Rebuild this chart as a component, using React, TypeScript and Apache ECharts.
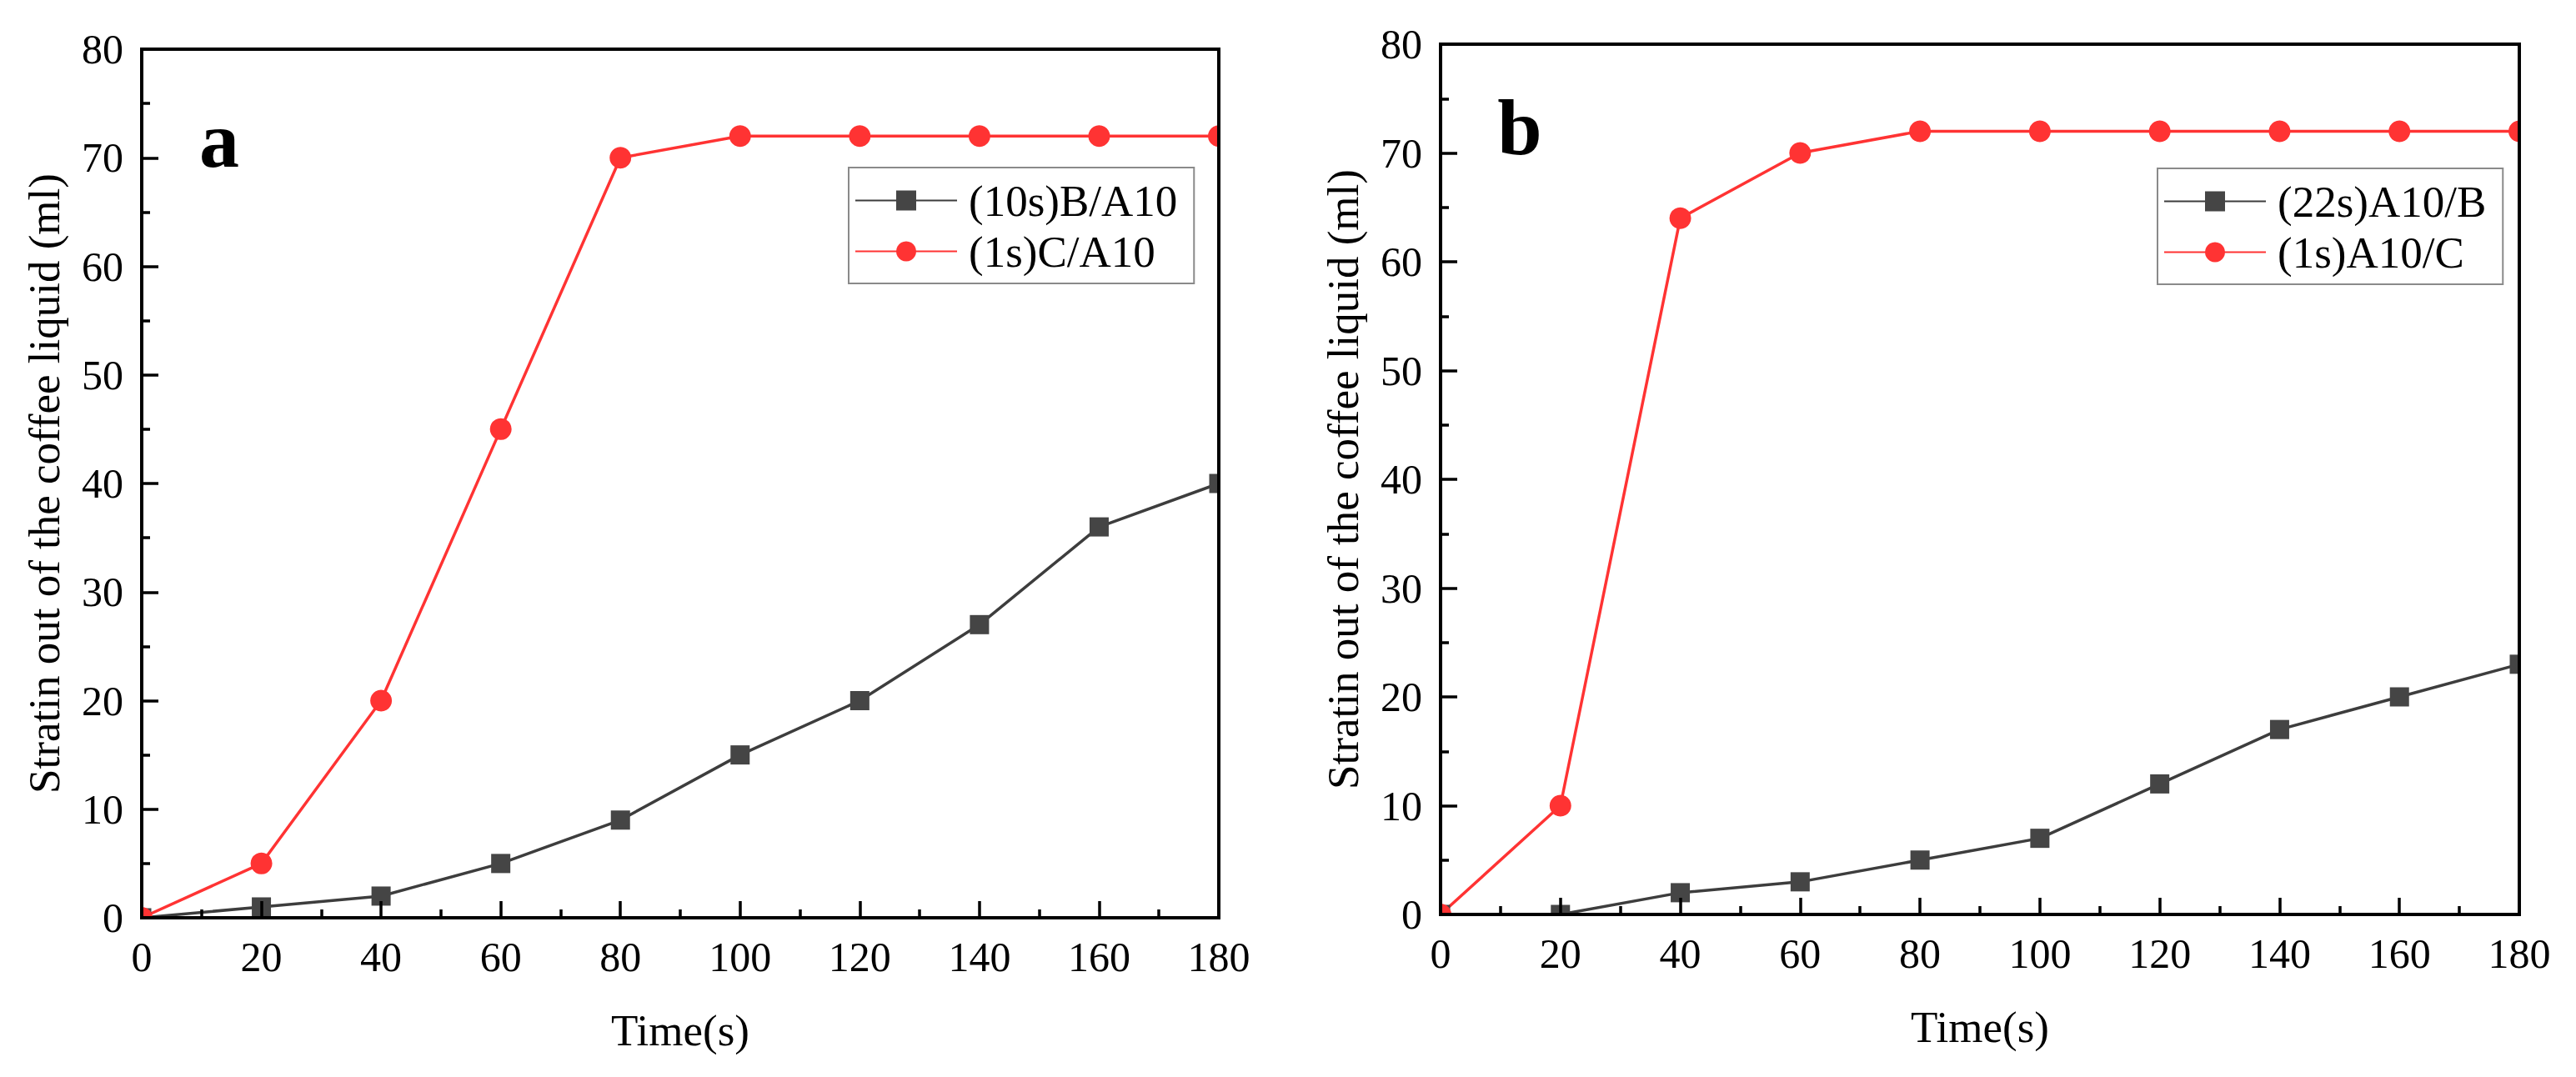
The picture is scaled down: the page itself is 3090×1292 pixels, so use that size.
import React, { useEffect, useRef } from "react";
import * as echarts from "echarts";

const TIME = [0, 20, 40, 60, 80, 100, 120, 140, 160, 180];
const A_BLACK = [0, 1, 2, 5, 9, 15, 20, 27, 36, 40];
const A_RED = [0, 5, 20, 45, 70, 72, 72, 72, 72, 72];
const B_BLACK = [0, 0, 2, 3, 5, 7, 12, 17, 20, 23];
const B_RED = [0, 10, 64, 70, 72, 72, 72, 72, 72, 72];
const A_NAMES = ["(10s)B/A10", "(1s)C/A10"];
const B_NAMES = ["(22s)A10/B", "(1s)A10/C"];
const PANEL_LABELS = ["a", "b"];
const X_TITLE = "Time(s)";
const Y_TITLE = "Stratin out of the coffee liquid (ml)";

const FONT = '"Liberation Serif", "Times New Roman", serif';
const RED = "#ff3333";
const DARK = "#3d3d3d";

const GRIDS = [
  { left: 170, top: 59, width: 1292, height: 1042 },
  { left: 1728, top: 53, width: 1294, height: 1044 },
];

function pairs(xs: number[], ys: number[]) {
  return xs.map((x, i) => [x, ys[i]]);
}

export default function App() {
  const ref = useRef<HTMLDivElement>(null);
  useEffect(() => {
    document.body.style.margin = "0";
    const chart = echarts.init(ref.current!, null, { renderer: "svg" });

    const xAxes = GRIDS.map((_, i) => ({
      type: "value",
      gridIndex: i,
      min: 0,
      max: 180,
      interval: 20,
      z: 5,
      name: X_TITLE,
      nameLocation: "middle",
      nameGap: 108,
      nameTextStyle: { fontFamily: FONT, fontSize: 53, color: "#000" },
      axisLine: { show: true, lineStyle: { color: "#000", width: 4 } },
      axisTick: { show: true, inside: true, length: 20, lineStyle: { color: "#000", width: 3.5 } },
      minorTick: { show: true, splitNumber: 2, length: 10, lineStyle: { color: "#000", width: 3.5 } },
      splitLine: { show: false },
      axisLabel: { fontFamily: FONT, fontSize: 50, color: "#000", margin: 22 },
    }));
    const yAxes = GRIDS.map((_, i) => ({
      type: "value",
      gridIndex: i,
      min: 0,
      max: 80,
      interval: 10,
      z: 5,
      name: Y_TITLE,
      nameLocation: "middle",
      nameGap: 91,
      nameTextStyle: { fontFamily: FONT, fontSize: 53, color: "#000" },
      axisLine: { show: true, lineStyle: { color: "#000", width: 4 } },
      axisTick: { show: true, inside: true, length: 20, lineStyle: { color: "#000", width: 3.5 } },
      minorTick: { show: true, splitNumber: 2, length: 10, lineStyle: { color: "#000", width: 3.5 } },
      splitLine: { show: false },
      axisLabel: { fontFamily: FONT, fontSize: 50, color: "#000", margin: 22 },
    }));

    const mk = (name: string, idx: number, ys: number[], kind: "black" | "red") => ({
      type: "line",
      name,
      xAxisIndex: idx,
      yAxisIndex: idx,
      data: pairs(TIME, ys),
      symbol: kind === "black" ? "rect" : "circle",
      symbolSize: kind === "black" ? 23 : 26,
      z: 2,
      lineStyle: { color: kind === "black" ? DARK : RED, width: 3.5 },
      itemStyle: { color: kind === "black" ? "#454545" : RED },
    });

    const series = [
      mk(A_NAMES[0], 0, A_BLACK, "black"),
      mk(A_NAMES[1], 0, A_RED, "red"),
      mk(B_NAMES[0], 1, B_BLACK, "black"),
      mk(B_NAMES[1], 1, B_RED, "red"),
    ];

    const legendBase = {
      orient: "vertical",
      align: "left",
      itemWidth: 122,
      itemHeight: 30,
      itemGap: 8,
      padding: [13, 20, 12, 7],
      borderColor: "#8a8a8a",
      borderWidth: 2,
      selectedMode: false,
      textStyle: { fontFamily: FONT, fontSize: 53, color: "#000", padding: [0, 0, 0, 9] },
    };

    const strips: any[] = [];
    GRIDS.forEach((g) => {
      const r = g.left + g.width;
      const b = g.top + g.height;
      strips.push(
        { type: "rect", z: 4, shape: { x: g.left - 20, y: g.top - 20, width: 18, height: g.height + 40 }, style: { fill: "#fff" } },
        { type: "rect", z: 4, shape: { x: r + 2, y: g.top - 20, width: 18, height: g.height + 40 }, style: { fill: "#fff" } },
        { type: "rect", z: 4, shape: { x: g.left - 20, y: b + 2, width: g.width + 40, height: 17 }, style: { fill: "#fff" } },
        { type: "rect", z: 4, shape: { x: g.left - 20, y: g.top - 20, width: g.width + 40, height: 18 }, style: { fill: "#fff" } }
      );
    });

    chart.setOption({
      animation: false,
      backgroundColor: "#fff",
      grid: GRIDS.map((g) => ({ ...g, show: true, z: 5, borderColor: "#000", borderWidth: 4, backgroundColor: "transparent" })),
      xAxis: xAxes,
      yAxis: yAxes,
      legend: [
        { ...legendBase, data: A_NAMES, left: 1018, top: 201 },
        { ...legendBase, data: B_NAMES, left: 2588, top: 202 },
      ],
      series,
      graphic: [
        ...strips,
        {
          type: "text",
          z: 6,
          x: 263,
          y: 167,
          style: { text: PANEL_LABELS[0], fontFamily: FONT, fontSize: 96, fontWeight: "bold", fill: "#000", textAlign: "center", textVerticalAlign: "middle" },
        },
        {
          type: "text",
          z: 6,
          x: 1823,
          y: 152,
          style: { text: PANEL_LABELS[1], fontFamily: FONT, fontSize: 96, fontWeight: "bold", fill: "#000", textAlign: "center", textVerticalAlign: "middle" },
        },
      ],
    });
    return () => chart.dispose();
  }, []);
  return <div ref={ref} style={{ width: 3090, height: 1292 }} />;
}
